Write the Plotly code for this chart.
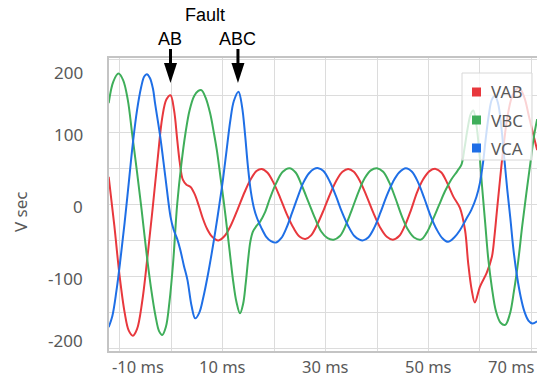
import plotly.graph_objects as go

# ---- data (time in ms, secondary volts) ----
t_vab = [-12.1, -11.0, -10.0, -9.0, -8.2, -7.4, -6.6, -5.6, -4.6, -3.6, -2.6, -1.7, -0.9, -0.1,
         0.6, 1.2, 1.7, 2.3, 3.0, 3.8, 4.6, 5.4, 6.2, 7.0, 8.0, 9.2, 10.4, 11.7, 13.0, 14.3,
         15.5, 16.6, 17.6, 18.7, 19.9, 21.2, 22.5, 23.8, 25.0, 26.1, 27.2, 28.4, 29.7, 31.0,
         32.2, 33.3, 34.4, 35.5, 36.7, 38.0, 39.3, 40.6, 41.9, 43.1, 44.3, 45.4, 46.6, 47.8,
         49.0, 50.2, 51.4, 52.5, 53.6, 54.8, 56.1, 57.1, 57.7, 58.4, 59.0, 60.0, 61.3, 62.3,
         62.8, 63.3, 63.9, 64.6, 65.4, 66.4, 67.6, 68.6, 69.5, 70.3, 71.1]
vab = [38, -30, -98, -150, -175, -182, -173, -135, -75, -8, 62, 120, 145, 151,
       130, 90, 58, 34, 27, 24, 14, -2, -20, -34, -45, -50, -44, -28, -6, 17,
       35, 46, 49, 44, 30, 9, -14, -33, -45, -48, -43, -28, -7, 16,
       34, 45, 49, 45, 32, 11, -12, -32, -45, -49, -44, -30, -8, 17,
       35, 46, 49, 44, 30, 11, -5, -36, -81, -119, -136, -114, -95, -73,
       -45, -8, 35, 82, 124, 152, 161, 148, 122, 98, 75]

t_vbc = [-12.1, -11.2, -10.2, -9.3, -8.4, -7.5, -6.6, -5.7, -4.8, -3.9, -3.0, -2.3, -1.7, -1.0,
         -0.3, 0.4, 1.2, 2.0, 2.8, 3.6, 4.5, 5.3, 5.9, 6.7, 7.6, 8.3, 8.9, 9.6, 10.2, 10.9,
         11.5, 12.1, 12.7, 13.4, 14.0, 14.5, 15.0, 15.4, 15.9, 16.6, 17.3, 18.2, 19.2, 20.4,
         21.7, 23.0, 24.2, 25.4, 26.7, 28.0, 29.2, 30.4, 31.6, 32.8, 34.0, 35.2, 36.4, 37.6,
         38.8, 40.0, 41.2, 42.4, 43.6, 44.8, 46.0, 47.2, 48.5, 49.6, 50.8, 52.0, 53.2, 54.4,
         55.6, 56.4, 57.0, 57.6, 58.2, 58.7, 59.3, 59.9, 60.4, 61.0, 61.6, 62.3, 63.1, 64.0,
         64.9, 65.8, 66.6, 67.4, 68.2, 69.0, 69.8, 70.5, 71.1]
vbc = [140, 170, 181, 172, 145, 95, 45, -8, -65, -115, -155, -176, -181, -170,
       -135, -82, 0, 55, 98, 130, 150, 157, 158, 148, 126, 100, 75, 38, 6, -35,
       -72, -108, -135, -151, -138, -110, -75, -52, -38, -30, -24, -12, 8, 29,
       45, 50, 44, 26, 3, -20, -38, -47, -49, -44, -28, -6, 17, 36,
       47, 50, 45, 30, 8, -16, -35, -46, -49, -40, -22, -2, 18, 34,
       46, 55, 78, 105, 125, 130, 110, 70, 25, -25, -75, -115, -148, -164,
       -167, -152, -120, -80, -30, 15, 58, 95, 118]

t_vca = [-12.1, -11.4, -10.6, -9.8, -9.0, -8.2, -7.4, -6.6, -5.8, -5.2, -4.7, -4.1, -3.5, -3.1,
         -2.1, -1.1, -0.1, 0.5, 1.2, 1.8, 2.5, 3.2, 4.0, 4.7, 5.5, 6.3, 7.1, 7.9, 8.7, 9.4,
         10.1, 10.8, 11.5, 12.2, 13.1, 13.8, 14.4, 14.9, 15.5, 16.1, 16.7, 17.5, 18.5, 19.4,
         20.4, 21.4, 22.4, 23.5, 24.6, 25.7, 26.8, 27.8, 28.6, 29.6, 30.8, 32.0, 33.2, 34.4,
         35.6, 36.6, 37.3, 38.3, 39.5, 40.7, 41.9, 43.1, 44.3, 45.6, 46.8, 48.0, 49.2, 50.4,
         51.6, 52.7, 53.8, 55.0, 56.1, 57.2, 58.3, 59.3, 60.0, 60.6, 61.1, 61.7, 62.3, 62.9,
         63.5, 64.1, 64.7, 65.3, 65.9, 66.5, 67.2, 67.9, 68.6, 69.4, 70.2, 71.1]
vca = [-170, -155, -120, -75, -25, 30, 85, 130, 162, 177, 180, 175, 160, 140,
       94, 38, -17, -35, -48, -63, -85, -105, -141, -158, -150, -128, -100, -68, -33, 0,
       35, 75, 115, 143, 156, 135, 95, 55, 18, -5, -19, -32, -45, -51,
       -53, -47, -33, -12, 10, 30, 43, 49, 50, 46, 32, 12, -11, -30,
       -44, -49, -50, -46, -32, -11, 12, 31, 44, 50, 45, 30, 8, -16,
       -35, -47, -52, -46, -36, -22, -8, 10, 30, 58, 90, 123, 145, 150,
       140, 110, 65, 20, -20, -63, -100, -128, -148, -161, -165, -162]

series_names = ["VAB", "VBC", "VCA"]
series_colors = ["#e8383d", "#3fae5a", "#1f6fe6"]

x_ticks = [-10, 10, 30, 50, 70]
x_tick_text = ["-10 ms", "10 ms", "30 ms", "50 ms", "70 ms"]
y_ticks = [200, 100, 0, -100, -200]
y_tick_text = ["200", "100", "0", "-100", "-200"]

fault_marks = [("AB", -0.1, 151), ("ABC", 13.0, 156)]

# ---- geometry ----
W, H = 537, 377
L, R, T, B = 109, 0, 58, 26
PW, PH = W - L - R, H - T - B
XR = [-12.04, 71.07]
YR = [-203.2, 202.6]

GRID = "#dcdcdc"
FRAME = "#c4c4c4"
TXT = "#595959"
FONT = "Noto Sans"


def px_x(p):
    return (p - L) / PW


def px_y(p):
    return (H - B - p) / PH


def data_x(t):
    return (t - XR[0]) / (XR[1] - XR[0])


fig = go.Figure()
for tt, vv, name, col in zip([t_vab, t_vbc, t_vca], [vab, vbc, vca], series_names, series_colors):
    fig.add_trace(go.Scatter(x=tt, y=vv, name=name, mode="lines",
                             line=dict(color=col, width=2, shape="spline", smoothing=1.0),
                             showlegend=False, hoverinfo="skip"))

annotations = []
# y tick labels (kept inside the plot's vertical span)
y_shift = {200: -13, -200: 8}
for v, s in zip(y_ticks, y_tick_text):
    annotations.append(dict(x=0, xref="paper", y=v, yref="y", text=s, showarrow=False,
                            xanchor="right", yanchor="middle", xshift=-24,
                            yshift=y_shift.get(v, -2),
                            font=dict(family=FONT, size=17, color=TXT)))
# x tick labels
for v, s in zip(x_ticks, x_tick_text):
    if v == x_ticks[0]:
        a = dict(x=0, xref="paper", xanchor="left", xshift=1)
    elif v == x_ticks[-1]:
        a = dict(x=1, xref="paper", xanchor="right", xshift=0)
    else:
        a = dict(x=v, xref="x", xanchor="center")
    a.update(y=0, yref="paper", yanchor="middle", yshift=-15, text=s, showarrow=False,
             font=dict(family=FONT, size=16.5, color=TXT))
    annotations.append(a)
# axis title
annotations.append(dict(x=0, xref="paper", xshift=-89, y=px_y(212), yref="paper",
                        text="V sec", textangle=-90, showarrow=False,
                        xanchor="center", yanchor="middle",
                        font=dict(family=FONT, size=17, color=TXT)))
# fault labels
annotations.append(dict(x=px_x(205), y=px_y(15), xref="paper", yref="paper", text="Fault",
                        showarrow=False, xanchor="center", yanchor="middle",
                        font=dict(family="Liberation Sans", size=18, color="black")))
shapes = []
for lab, tf, vf in fault_marks:
    annotations.append(dict(x=data_x(tf), y=px_y(39), xref="paper", yref="paper", text=lab,
                            showarrow=False, xanchor="center", yanchor="middle",
                            font=dict(family="Liberation Sans", size=18, color="black")))
    # arrow: shaft + head, tip sitting just above the peak
    ax = data_x(tf)
    ay = px_y(83)
    shapes.append(dict(type="line", xref="paper", yref="paper", xsizemode="pixel",
                       ysizemode="pixel", xanchor=ax, yanchor=ay, x0=0, x1=0, y0=16, y1=34,
                       line=dict(color="black", width=3)))
    shapes.append(dict(type="path", xref="paper", yref="paper", xsizemode="pixel",
                       ysizemode="pixel", xanchor=ax, yanchor=ay,
                       path="M -6.5 20 L 6.5 20 L 0 0 Z", fillcolor="black",
                       line=dict(color="black", width=0)))

# legend box
shapes.append(dict(type="rect", xref="paper", yref="paper", x0=px_x(462), x1=px_x(532),
                   y0=px_y(160), y1=px_y(73), fillcolor="rgba(255,255,255,0.78)",
                   line=dict(color="#d8d8d8", width=1), layer="above"))
for i, (name, col) in enumerate(zip(series_names, series_colors)):
    cy = 92 + 28 * i
    shapes.append(dict(type="rect", xref="paper", yref="paper", x0=px_x(472), x1=px_x(481),
                       y0=px_y(cy + 4.5), y1=px_y(cy - 4.5), fillcolor=col,
                       line=dict(width=0), layer="above"))
    annotations.append(dict(x=px_x(489), y=px_y(cy), xref="paper", yref="paper", text=name,
                            showarrow=False, xanchor="left", yanchor="middle",
                            font=dict(family=FONT, size=17, color=TXT)))

fig.update_layout(
    width=W, height=H,
    margin=dict(l=L, r=R, t=T, b=B, pad=0),
    paper_bgcolor="white", plot_bgcolor="white",
    showlegend=False,
    xaxis=dict(range=XR, tick0=0, dtick=10, showgrid=True, gridcolor=GRID, gridwidth=1,
               showticklabels=False, ticks="", zeroline=False, showline=True,
               linecolor=FRAME, linewidth=2, mirror=True, fixedrange=True),
    yaxis=dict(range=YR, tick0=0, dtick=50, showgrid=True, gridcolor=GRID, gridwidth=1,
               showticklabels=False, ticks="", zeroline=False, showline=True,
               linecolor=FRAME, linewidth=2, fixedrange=True),
    annotations=annotations,
    shapes=shapes,
)

fig.write_html("out.html")
